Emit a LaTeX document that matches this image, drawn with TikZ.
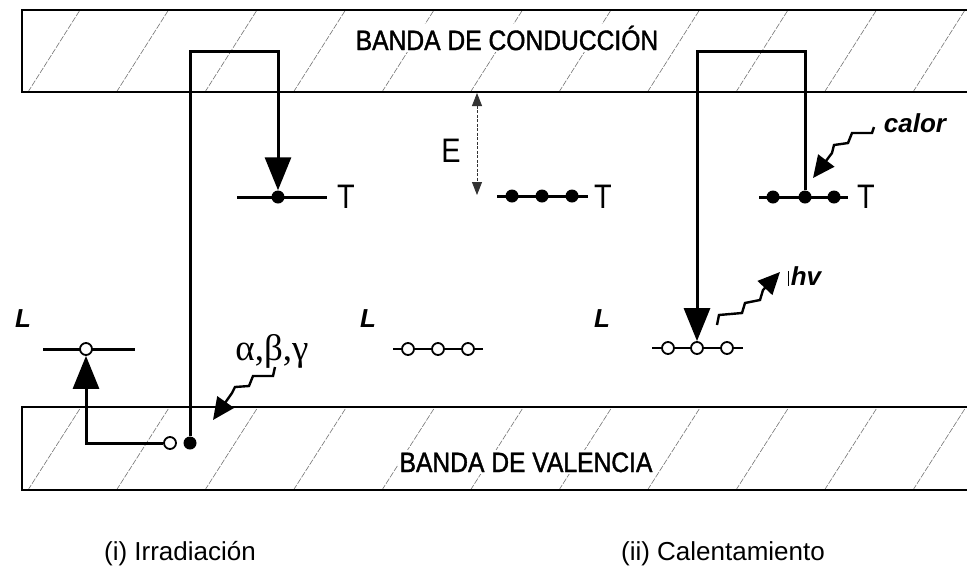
\documentclass[tikz,border=0pt]{standalone}
\usepackage{fontspec}
\setmainfont{Liberation Sans}
\newfontfamily\greekfont{Liberation Serif}
\newfontfamily\bandfont[FakeStretch=0.88,FakeBold=1.4]{Liberation Sans}
\newfontfamily\thinfont[FakeStretch=0.85]{Liberation Sans}
\usetikzlibrary{arrows.meta}
\begin{document}
\begin{tikzpicture}[x=1pt,y=-1pt,
  bandline/.style={line width=1.6pt, line join=miter},
  hatch/.style={line width=0.6pt, black!55, dash pattern=on 6pt off 1.5pt},
  bandlabel/.style={fill=white, inner sep=2pt, anchor=base, font=\bandfont\fontsize{28}{28}\selectfont},
  caption/.style={anchor=base, font=\fontsize{26}{26}\selectfont},
  biglet/.style={anchor=base, inner sep=0pt, font=\thinfont\fontsize{34}{34}\selectfont},
  Llet/.style={anchor=base, inner sep=0pt, font=\fontsize{26}{26}\selectfont\bfseries\itshape},
  wlabel/.style={anchor=base, inner sep=0pt, font=\fontsize{26}{26}\selectfont\bfseries\itshape},
  lvl/.style={line width=3pt},
  lvlthin/.style={line width=2.4pt},
  full/.style={circle, fill=black, inner sep=0pt, minimum size=13pt},
  hollow/.style={circle, draw=black, fill=white, line width=1.8pt, inner sep=0pt, minimum size=12pt},
  trans/.style={line width=3pt, line join=miter, -{Triangle[length=33pt,width=26pt]}},
  wave/.style={line width=2.4pt, line join=miter, -{Triangle[length=22pt,width=20pt]}},
  edim/.style={line width=0.8pt, black!80, dash pattern=on 3pt off 1.5pt,
               {Triangle[length=13pt,width=10pt]}-{Triangle[length=13pt,width=10pt]}}
]
\useasboundingbox (0,0) rectangle (967,571);
\fill[white] (0,0) rectangle (967,571);

% ---------- bands ----------
\begin{scope}
  \clip (22,10) rectangle (967,92);
  \foreach \k in {-1,...,11} \draw[hatch] ({28+88.5*\k},92) -- ++(52,-82);
\end{scope}
\begin{scope}
  \clip (22,407) rectangle (967,490);
  \foreach \k in {-1,...,11} \draw[hatch] ({28+88.5*\k},490) -- ++(53,-83);
\end{scope}
\draw[bandline] (967,10) -- (22,10) -- (22,92) -- (967,92);
\draw[bandline] (967,407) -- (22,407) -- (22,490) -- (967,490);
\node[bandlabel] (cb) at (507,50) {BANDA DE CONDUCCIÓN};
\node[bandlabel] (vb) at (526,472) {BANDA DE VALENCIA};

% ---------- levels ----------
% left T level
\draw[lvl] (237,197) -- (327,197);
\node[full] (tA) at (278,197) {};
\node[biglet] (TA) at (346,208) {T};
% middle T level
\draw[lvl] (497,196) -- (588,196);
\node[full] (tB1) at (512,196) {};
\node[full] (tB2) at (542,196) {};
\node[full] (tB3) at (572,196) {};
\node[biglet] (TB) at (603,208) {T};
% right T level
\draw[lvl] (759,197) -- (848,197);
\node[full] (tC1) at (773,197) {};
\node[full] (tC2) at (805,197) {};
\node[full] (tC3) at (834,197) {};
\node[biglet] (TC) at (866,208) {T};

% left L level
\draw[lvl] (43,349) -- (135,349);
\node[hollow] (lA) at (86,349) {};
\node[Llet] (LA) at (23,327) {L};
% middle L level
\draw[lvlthin] (393,349) -- (483,349);
\node[hollow] (lB1) at (408,349) {};
\node[hollow] (lB2) at (438,349) {};
\node[hollow] (lB3) at (468,349) {};
\node[Llet] (LB) at (368,327) {L};
% right L level
\draw[lvlthin] (652,348) -- (743,348);
\node[hollow] (lC1) at (668,348) {};
\node[hollow] (lC2) at (697,348) {};
\node[hollow] (lC3) at (727,348) {};
\node[Llet] (LC) at (602,327) {L};

% ---------- (i) irradiation ----------
\node[full] (eA) at (190,443) {};
\node[hollow] (hA) at (170,443) {};
\coordinate (a1) at (190,51);
\coordinate (a2) at (278,51);
\draw[trans] (eA) -- (a1) -- (a2) -- (tA);
\coordinate (a3) at (86,443);
\draw[trans] (hA) -- (a3) -- (lA);

\node[anchor=base, inner sep=0pt, font=\greekfont\fontsize{37}{37}\selectfont] (abg) at (272,360) {α,β,γ};
\coordinate (ws1) at (275,367);
\coordinate (wt1) at (213,420);
\draw[wave] (ws1) -- (273,376) -- (253,376) -- (249,386) -- (235,387) -- (232,393) -- (wt1);

% ---------- middle: E ----------
\coordinate (ea) at (477,93);
\coordinate (eb) at (477,195);
\draw[edim] (ea) -- (eb);
\node[biglet] (E) at (451,162) {E};

% ---------- (ii) heating ----------
\coordinate (b1) at (805,51);
\coordinate (b2) at (697,51);
\draw[trans] (tC2) -- (b1) -- (b2) -- (lC2);

\coordinate (ws2) at (874,127);
\coordinate (wt2) at (813,178);
\draw[wave] (ws2) -- (872,133) -- (852,133) -- (848,143) -- (834,145) -- (832,153) -- (wt2);
\node[wlabel] (calor) at (915,132) {calor};

\coordinate (ws3) at (717,325);
\coordinate (wt3) at (780,272);
\draw[wave] (ws3) -- (719,315) -- (742,313) -- (745,303) -- (760,300) -- (763,290) -- (wt3);
\node[wlabel] (hv) at (806,285) {hv};
\coordinate (bar1) at (788,271);
\coordinate (bar2) at (788,286);
\draw[line width=0.8pt] (bar1) -- (bar2);

% ---------- captions ----------
\node[caption] (c1) at (180,560) {(i) Irradiación};
\node[caption] (c2) at (723,560) {(ii) Calentamiento};
\end{tikzpicture}
\end{document}
